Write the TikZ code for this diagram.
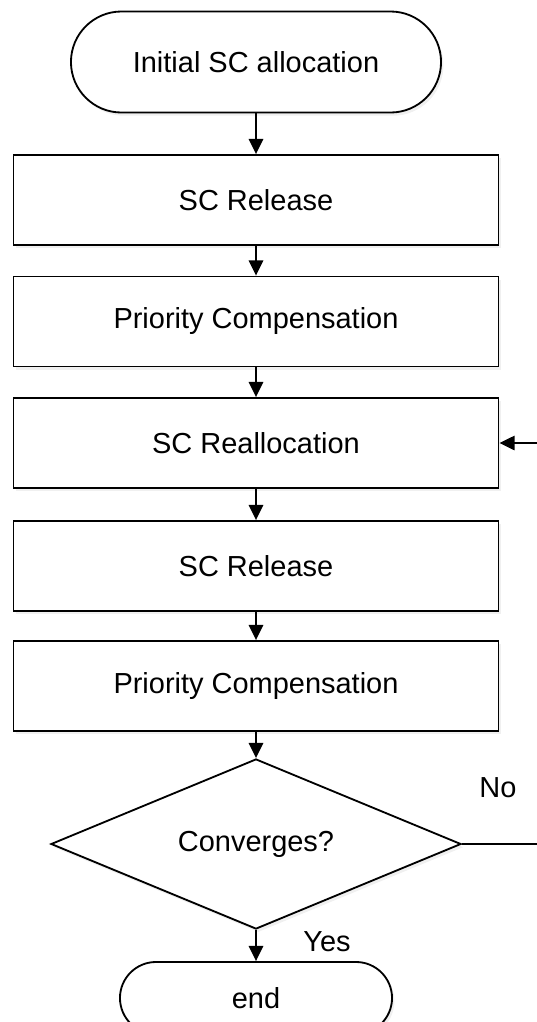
\documentclass[tikz,border=0pt]{standalone}
\usepackage{fontspec}
\setmainfont{Liberation Sans}
\usetikzlibrary{arrows.meta,shapes.misc,shapes.geometric,shadows}

\tikzset{
  base/.style={draw, line width=1.3pt, fill=white, font=\fontsize{20.6}{24}\selectfont,
    drop shadow={opacity=0.12, shadow xshift=0.06cm, shadow yshift=-0.08cm}},
  terminal/.style={base, rounded rectangle, inner sep=0pt},
  process/.style={base, rectangle, minimum width=12.125cm, minimum height=2.25cm},
  decision/.style={base, diamond, aspect=2.4, minimum width=10.25cm, minimum height=4.25cm, inner sep=1pt},
  flow/.style={line width=1.3pt, -{Triangle[length=0.38cm, width=0.36cm]}},
  lbl/.style={font=\fontsize{20.6}{24}\selectfont}
}

\begin{document}
\begin{tikzpicture}[x=0.025cm, y=-0.025cm]
    % Page frame
    \useasboundingbox (0,0) rectangle (537,1022);
    \clip (0,0) rectangle (537,1022);

    % Start and end
    \node[terminal, minimum width=9.25cm, minimum height=2.525cm] (init) at (256,62) {Initial SC allocation};
    \node[terminal, minimum width=6.8cm, minimum height=1.8cm] (endn) at (256,998) {end};

    % Steps
    \foreach \n/\y/\txt in {rel1/200/SC Release, pc1/321.5/Priority Compensation,
        realloc/443/SC Reallocation, rel2/566/SC Release, pc2/686/Priority Compensation} {
        \node[process] (\n) at (256,\y) {\txt};
    }

    % Test
    \node[decision] (conv) at (256,844) {Converges?};
    \node[lbl] (no) at (498,788) {No};
    \node[lbl] (yes) at (327,942) {Yes};

    % Flow
    \foreach \a/\b in {init/rel1, rel1/pc1, pc1/realloc, realloc/rel2, rel2/pc2, pc2/conv, conv/endn} {
        \draw[flow] (\a.south) -- (\b.north);
    }

    % Loop back
    \coordinate (loop) at (575,844);
    \draw[flow] (conv.east) -- (loop) |- (realloc.east);
\end{tikzpicture}
\end{document}
